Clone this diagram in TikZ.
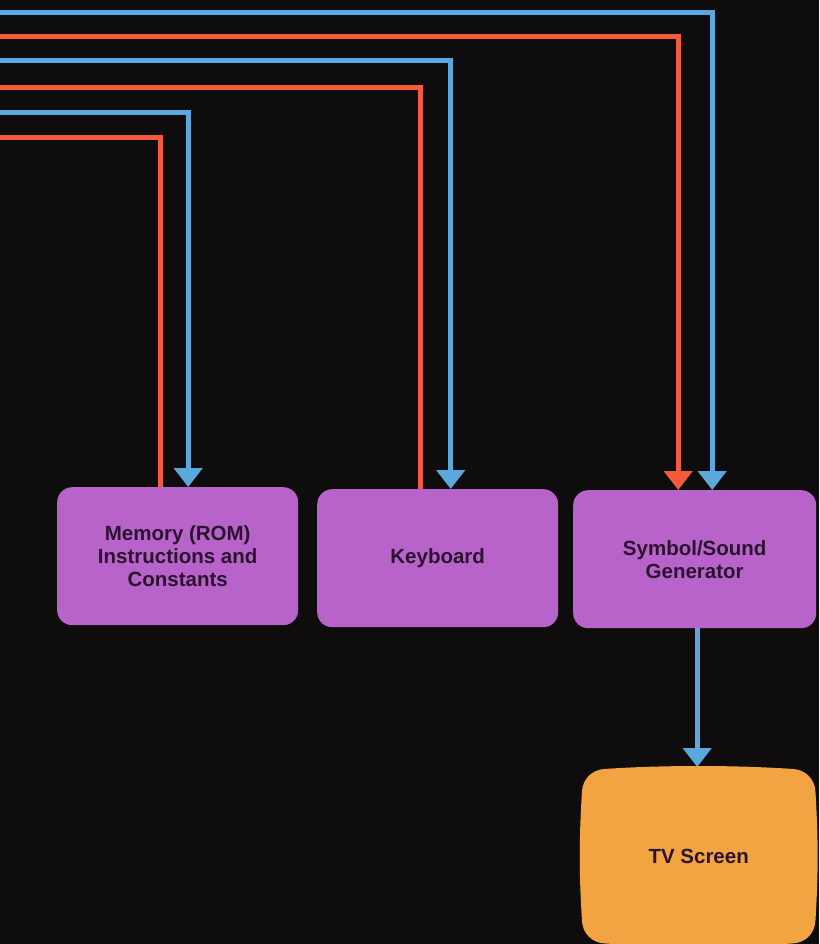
\documentclass[tikz,border=0pt]{standalone}
\usepackage{fontspec}
\setmainfont{Liberation Sans}
\usetikzlibrary{positioning}
\usetikzlibrary{arrows.meta}
\usetikzlibrary{backgrounds}
\definecolor{bgdark}{HTML}{0E0C0D}
\definecolor{unitpurple}{HTML}{B763C9}
\definecolor{screenorange}{HTML}{F2A443}
\definecolor{wireblue}{HTML}{5BA8DC}
\definecolor{wirered}{HTML}{F45B3C}
\definecolor{labelink}{HTML}{2B1330}
\tikzset{unit/.style={draw=none, fill=unitpurple, rounded corners=15pt, anchor=north west,
    minimum width=241pt, minimum height=138pt, align=center, text=labelink,
    font=\bfseries\fontsize{20.5}{23}\selectfont}}
\tikzset{screen/.style={unit, fill=none, minimum width=233pt, minimum height=174pt}}
\tikzset{bluewire/.style={draw=wireblue, line width=5pt, -{Triangle[width=28pt,length=19pt]}}}
\tikzset{redwire/.style={draw=wirered, line width=5pt}}
\tikzset{redin/.style={redwire, -{Triangle[width=28pt,length=19pt]}}}

\begin{document}
\begin{tikzpicture}[x=1pt, y=-1pt]
    \useasboundingbox (0,0) rectangle (819,944);

    \node[unit] (mem) at (57,487) {Memory (ROM)\\Instructions and\\Constants};
    \node[unit] (kbd) at (317,489) {Keyboard};
    \node[unit, minimum width=243pt] (gen) at (573,490) {Symbol/Sound\\Generator};
    \node[screen] (tv) at (582,769) {TV Screen};

    % dark ground and the screen face, slightly bulged
    \begin{scope}[on background layer]
    \fill[bgdark] (0,0) rectangle (819,944);
    \fill[screenorange] ([xshift=22pt]tv.north west)
        .. controls ([xshift=80pt,yshift=4pt]tv.north west) and ([xshift=-80pt,yshift=4pt]tv.north east) .. ([xshift=-22pt]tv.north east)
        .. controls ([xshift=-10pt,yshift=-0.8pt]tv.north east) and ([xshift=-0.75pt,yshift=-10pt]tv.north east) .. ([yshift=-22pt]tv.north east)
        .. controls ([xshift=3pt,yshift=-70pt]tv.north east) and ([xshift=3pt,yshift=70pt]tv.south east) .. ([yshift=22pt]tv.south east)
        .. controls ([xshift=-0.75pt,yshift=10pt]tv.south east) and ([xshift=-10pt,yshift=0.8pt]tv.south east) .. ([xshift=-22pt]tv.south east)
        .. controls ([xshift=-80pt,yshift=-4pt]tv.south east) and ([xshift=80pt,yshift=-4pt]tv.south west) .. ([xshift=22pt]tv.south west)
        .. controls ([xshift=10pt,yshift=0.8pt]tv.south west) and ([xshift=0.75pt,yshift=10pt]tv.south west) .. ([yshift=22pt]tv.south west)
        .. controls ([xshift=-3pt,yshift=70pt]tv.south west) and ([xshift=-3pt,yshift=-70pt]tv.north west) .. ([yshift=-22pt]tv.north west)
        .. controls ([xshift=0.75pt,yshift=-10pt]tv.north west) and ([xshift=10pt,yshift=-0.8pt]tv.north west) .. cycle;
    \end{scope}

    % wires entering from the left edge
    \coordinate (busA) at (0,13);
    \coordinate (busB) at (0,37);
    \coordinate (busC) at (0,61);
    \coordinate (busD) at (0,88);
    \coordinate (busE) at (0,113);
    \coordinate (busF) at (0,138);

    \draw[bluewire] (busA) -| ([xshift=17.5pt]gen.north);
    \draw[redin] (busB) -| ([xshift=-16.5pt]gen.north);
    \draw[bluewire] (busC) -| ([xshift=13pt]kbd.north);
    \draw[redwire] (kbd.north) ++(-17pt,0) |- (busD);
    \draw[bluewire] (busE) -| ([xshift=10.5pt]mem.north);
    \draw[redwire] (mem.north) ++(-17.5pt,0) |- (busF);

    \draw[bluewire] ([xshift=2.5pt]gen.south) -- ([xshift=-1.5pt,yshift=2pt]tv.north);
\end{tikzpicture}
\end{document}
